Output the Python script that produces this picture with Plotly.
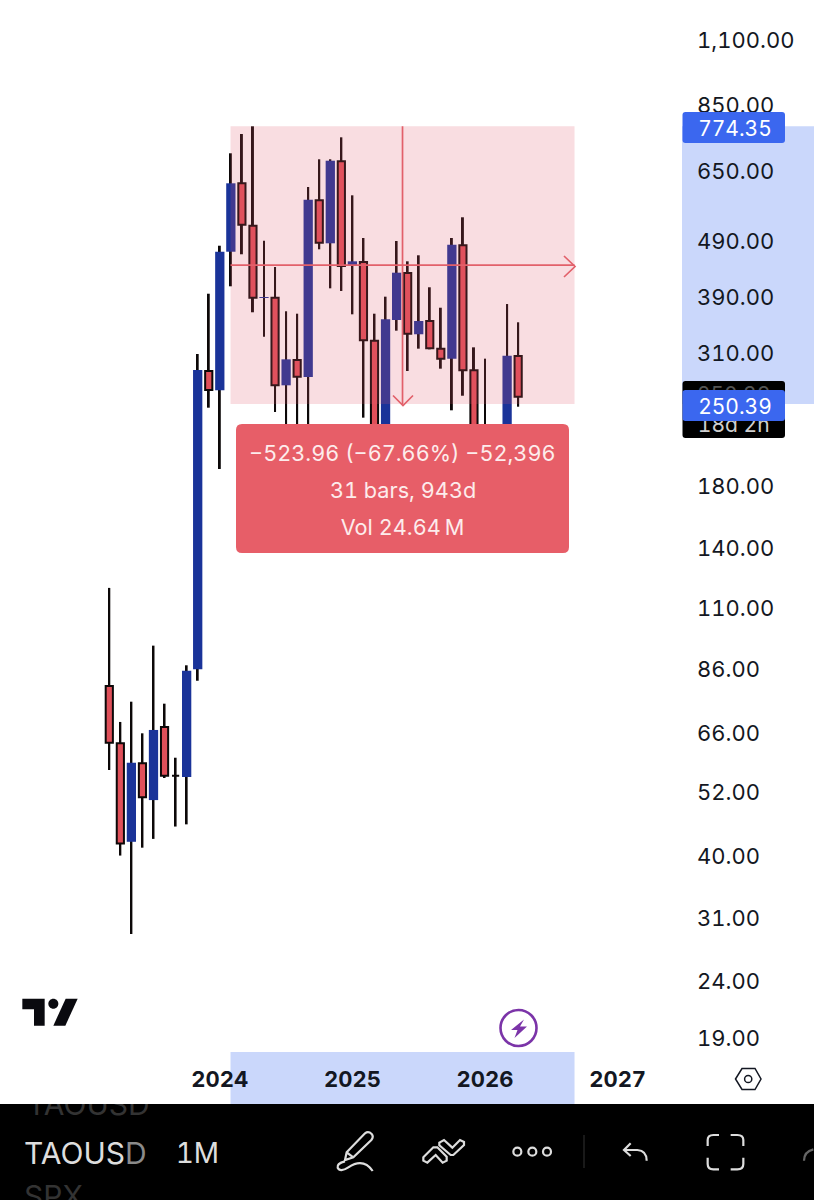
import re
import plotly.graph_objects as go

# ---- data (TAOUSD, monthly) ----
bar_index = list(range(38))
high = [118.5, 68.7, 74.6, 65.6, 93.7, 74.0, 59.4, 86.5, 306.8, 392.0, 476.5, 693.9, 750.5, 774.35, 486.3, 437.0, 365.0, 361.4, 605.0, 677.2, 677.2, 740.5, 584.9, 491.7, 361.4, 387.3, 485.7, 447.2, 458.3, 402.4, 370.3, 491.7, 534.9, 315.2, 301.0, 225.2, 375.9, 349.0]
low = [56.5, 39.9, 29.0, 41.2, 42.7, 54.7, 44.9, 45.3, 81.2, 246.6, 192.2, 404.0, 460.2, 363.5, 329.1, 242.3, 216.2, 219.8, 211.9, 469.6, 400.7, 396.4, 360.5, 236.8, 162.7, 156.2, 337.3, 286.3, 313.5, 312.7, 289.0, 244.0, 258.9, 176.4, 169.4, 166.0, 169.4, 247.6]
opens = [79.5, 63.0, 42.2, 58.1, 50.0, 67.3, 55.2, 54.9, 85.1, 286.3, 264.7, 465.0, 614.2, 516.9, 386.0, 385.7, 270.1, 299.4, 279.4, 573.2, 481.2, 671.7, 439.3, 446.0, 323.8, 183.8, 352.3, 426.5, 332.4, 350.8, 313.5, 301.0, 477.3, 287.1, 216.2, 191.4, 199.3, 304.3]
closes = [63.1, 41.9, 58.2, 50.6, 66.5, 55.2, 55.2, 84.6, 287.4, 265.0, 465.0, 614.2, 519.0, 385.7, 386.8, 270.1, 300.2, 279.7, 574.6, 482.4, 673.3, 438.8, 447.2, 324.4, 183.8, 353.3, 427.0, 333.2, 350.8, 314.0, 301.0, 478.5, 287.1, 216.2, 191.4, 207.6, 304.7, 257.9]

# the printed price labels are rounded, so each sits at its own level
price_ticks = [1100, 843.1, 644.7, 486, 386.8, 307.5, 238, 178.9, 139.4, 109.1, 85.0, 65.7, 51.7, 39.8, 30.9, 23.9, 19]
price_tick_labels = ["1,100.00", "850.00", "650.00", "490.00", "390.00", "310.00", "240.00", "180.00", "140.00",
                     "110.00", "86.00", "66.00", "52.00", "40.00", "31.00", "24.00", "19.00"]
year_ticks = [10, 22, 34, 46]
year_labels = ["2024", "2025", "2026", "2027"]

measure_start_bar, measure_end_bar = 10.97, 42.1
measure_high, measure_low = 774.35, 250.39
measure_lines = ["\u2212523.96 (\u221267.66%) \u221252,396", "31 bars, 943d", "Vol 24.64\u2009M"]
symbol, interval = "TAOUSD", "1M"

# ---- styles ----
W, H = 814, 1200
BLUE, RED, WICK = "#1a3399", "#e0505a", "#0c0808"
PINK = "rgba(225,85,105,0.2)"
BAND, TAG, MEASURE = "#cad7fb", "#3b67ef", "#e75e68"
FONT = "Inter"
ICON = "#dddddd"

def px(x): return x / W
def py(y): return 1 - y / H

def rr(x0, y0, x1, y1, r):
    return (f"M {px(x0+r)} {py(y0)} L {px(x1-r)} {py(y0)} Q {px(x1)} {py(y0)} {px(x1)} {py(y0+r)} "
            f"L {px(x1)} {py(y1-r)} Q {px(x1)} {py(y1)} {px(x1-r)} {py(y1)} "
            f"L {px(x0+r)} {py(y1)} Q {px(x0)} {py(y1)} {px(x0)} {py(y1-r)} "
            f"L {px(x0)} {py(y0+r)} Q {px(x0)} {py(y0)} {px(x0+r)} {py(y0)} Z")

def icon(path, ox=0.0, oy=0.0, sx=1.0, sy=1.0):
    """Turn an SVG-like path in crop pixels into paper coordinates."""
    parts = re.findall(r"[A-Za-z]|-?\d+\.?\d*", path)
    out, is_x = [], True
    for p in parts:
        if p.isalpha():
            out.append(p); is_x = True
        else:
            v = float(p)
            out.append(str(px(ox + v / sx)) if is_x else str(py(oy + v / sy)))
            is_x = not is_x
    return " ".join(out)

def circle(cx, cy, r):
    k = 0.5523 * r
    return (f"M {cx-r} {cy} C {cx-r} {cy-k} {cx-k} {cy-r} {cx} {cy-r} C {cx+k} {cy-r} {cx+r} {cy-k} {cx+r} {cy} "
            f"C {cx+r} {cy+k} {cx+k} {cy+r} {cx} {cy+r} C {cx-k} {cy+r} {cx-r} {cy+k} {cx-r} {cy} Z")

fig = go.Figure()
# wicks
fig.add_trace(go.Bar(x=bar_index, base=low, y=[h - l for h, l in zip(high, low)], width=0.18,
                     marker=dict(color=WICK, line=dict(width=0)), hoverinfo="skip", showlegend=False))
# rising bodies, no outline
up = [i for i in bar_index if closes[i] > opens[i]]
fig.add_trace(go.Bar(x=up, base=[opens[i] for i in up], y=[closes[i] - opens[i] for i in up], width=0.84,
                     marker=dict(color=BLUE, line=dict(width=0)), hoverinfo="skip", showlegend=False))
# falling bodies, dark outline
down = [i for i in bar_index if closes[i] <= opens[i]]
fig.add_trace(go.Bar(x=down, base=[closes[i] for i in down], y=[opens[i] - closes[i] for i in down], width=0.65,
                     marker=dict(color=RED, line=dict(color=WICK, width=2)), hoverinfo="skip", showlegend=False))

mid = (measure_high * measure_low) ** 0.5
mid_bar = (measure_start_bar + measure_end_bar) / 2
shapes = []
# below-trace bands
shapes.append(dict(type="rect", xref="paper", yref="y", x0=px(682), x1=1, y0=measure_low, y1=measure_high,
                   fillcolor=BAND, line_width=0, layer="below"))
shapes.append(dict(type="rect", xref="x", yref="paper", x0=measure_start_bar, x1=measure_end_bar, y0=py(1104), y1=py(1052),
                   fillcolor=BAND, line_width=0, layer="below"))
# measure area over the candles
shapes.append(dict(type="rect", xref="x", yref="y", x0=measure_start_bar, x1=measure_end_bar, y0=measure_low, y1=measure_high,
                   fillcolor=PINK, line_width=0, layer="above"))
arrow = dict(color="#e2606a", width=1.7)
shapes.append(dict(type="line", xref="x", yref="y", x0=measure_start_bar, x1=measure_end_bar, y0=mid, y1=mid, line=arrow, layer="above"))
shapes.append(dict(type="line", xref="x", yref="y", x0=mid_bar, x1=mid_bar, y0=measure_high, y1=measure_low, line=arrow, layer="above"))
shapes.append(dict(type="path", xref="paper", yref="paper", path=icon("M 564 256 L 575 266.5 L 564 277"), line=arrow, layer="above"))
shapes.append(dict(type="path", xref="paper", yref="paper", path=icon("M 393 395.5 L 403 405.5 L 413 395.5"), line=arrow, layer="above"))
# measure label
shapes.append(dict(type="path", xref="paper", yref="paper", path=rr(236, 424, 569, 553, 6), fillcolor=MEASURE, line_width=0, layer="above"))

# price tags
shapes.append(dict(type="path", xref="paper", yref="paper", path=rr(682.5, 381, 785, 438, 3),
                   fillcolor="#000000", line_width=0, layer="above"))
shapes.append(dict(type="rect", xref="paper", yref="paper", x0=px(682.5), x1=px(785), y0=py(438), y1=py(381),
                   fillcolor="rgba(0,0,0,0)", line_width=0, layer="above",
                   label=dict(text="18d 2h", font=dict(family=FONT, size=21, color="#cfcfcf"), textposition="bottom center", padding=2)))
shapes.append(dict(type="rect", xref="paper", yref="paper", x0=px(682.5), x1=px(785), y0=py(410), y1=py(380),
                   fillcolor="rgba(0,0,0,0)", line_width=0, layer="above",
                   label=dict(text="250.39", font=dict(family=FONT, size=21, color="#555555"), textposition="top center", padding=1)))
for top, text in [(112, f"{measure_high:.2f}"), (390, f"{measure_low:.2f}")]:
    shapes.append(dict(type="path", xref="paper", yref="paper", path=rr(682.5, top, 785, top + 31, 3),
                       fillcolor=TAG, line_width=0, layer="above"))
    shapes.append(dict(type="rect", xref="paper", yref="paper", x0=px(684), x1=px(786), y0=py(top + 31), y1=py(top),
                       fillcolor="rgba(0,0,0,0)", line_width=0, layer="above",
                       label=dict(text=text, font=dict(family=FONT, size=21, color="#ffffff"), textposition="middle center")))

# TradingView mark
tv = dict(type="path", xref="paper", yref="paper", fillcolor="#0a0a0f", line_width=0, layer="above")
shapes.append({**tv, "path": icon("M 37 26 L 104 26 L 104 107 L 72 107 L 72 58 L 37 58 Z", 10, 990, 3, 3)})
shapes.append({**tv, "path": icon(circle(130, 41, 15), 10, 990, 3, 3)})
shapes.append({**tv, "path": icon("M 167 26 L 203 26 L 166 107 L 130 107 Z", 10, 990, 3, 3)})

# lightning mark
shapes.append(dict(type="path", xref="paper", yref="paper", path=icon(circle(518.5, 1028, 18)), fillcolor="rgba(0,0,0,0)",
                   line=dict(color="#7b34a8", width=2.6), layer="above"))
shapes.append(dict(type="path", xref="paper", yref="paper", fillcolor="#7b34a8", line_width=0, layer="above",
                   path=icon("M 524 1019.5 L 511 1030 L 517.5 1030 L 514.5 1038 L 527 1026.5 L 520 1026.5 Z")))
# settings hexagon
shapes.append(dict(type="path", xref="paper", yref="paper", fillcolor="rgba(0,0,0,0)", line=dict(color="#131722", width=1.5), layer="above",
                   path=icon("M 735.5 1079 L 742 1068.5 L 755 1068.5 L 761 1079 L 755 1089.5 L 742 1089.5 Z")))
shapes.append(dict(type="path", xref="paper", yref="paper", fillcolor="rgba(0,0,0,0)", line=dict(color="#131722", width=1.5), layer="above",
                   path=icon(circle(748.2, 1079, 3.6))))

# toolbar
shapes.append(dict(type="rect", xref="paper", yref="paper", x0=0, x1=1, y0=0, y1=py(1104), fillcolor="#000000",
                   line=dict(width=0), layer="above"))
shapes.append(dict(type="rect", xref="paper", yref="paper", x0=px(20), x1=px(150), y0=py(1125), y1=py(1101),
                   fillcolor="rgba(0,0,0,0)", line_width=0, layer="above",
                   label=dict(text=symbol, font=dict(family=FONT, size=30, color="#333333"), textposition="bottom left", padding=4)))
shapes.append(dict(type="rect", xref="paper", yref="paper", x0=px(18), x1=px(150), y0=py(1104), y1=py(1084), fillcolor="#ffffff",
                   line_width=0, layer="above"))
stroke = dict(type="path", xref="paper", yref="paper", fillcolor="rgba(0,0,0,0)", layer="above", line=dict(color=ICON, width=2.2))
# pen
shapes.append({**stroke, "path": icon("M 75 120 L 80 97 L 135 40 Q 145 32 155 42 Q 162 50 154 60 L 100 112 Z M 80 97 L 100 112", 320, 1120, 3, 3)})
shapes.append({**stroke, "path": icon("M 75 124 Q 50 130 53 143 Q 60 158 85 142 Q 130 112 158 153", 320, 1120, 3, 3)})
# drawings
shapes.append({**stroke, "path": icon("M 310 112 L 340 82 L 352 82 L 380 110 L 380 122 L 368 128 L 347 105 L 322 128 L 310 122 Z", 320, 1120, 3, 3)})
shapes.append({**stroke, "path": icon("M 358 68 L 372 60 L 397 83 L 420 60 L 432 66 L 432 75 L 400 105 L 392 105 L 358 76 Z", 320, 1120, 3, 3)})
# dots
for cx in (592, 637, 681):
    shapes.append({**stroke, "path": icon(circle(cx, 95, 12), 320, 1120, 3, 3)})
shapes.append(dict(type="line", xref="paper", yref="paper", x0=px(584), x1=px(584), y0=py(1135), y1=py(1168),
                   line=dict(color="#333333", width=1), layer="above"))
# undo
shapes.append({**stroke, "path": icon("M 92 70 L 72 90 L 92 108 M 72 90 L 112 90 Q 140 92 140 122", 600, 1120, 3, 3)})
# brackets
for d in ("M 323 78 L 323 60 Q 323 45 340 45 L 357 45", "M 392 45 L 412 45 Q 430 45 430 60 L 430 78",
          "M 323 113 L 323 132 Q 323 148 340 148 L 357 148", "M 392 148 L 412 148 Q 430 148 430 132 L 430 113"):
    shapes.append({**stroke, "path": icon(d, 600, 1120, 3, 3)})
shapes.append({**stroke, "line": dict(color="#666666", width=2.2), "path": icon("M 612 122 Q 612 95 640 88", 600, 1120, 3, 3)})

annotations = []
for text, y in zip(measure_lines, (452.7, 489.5, 526.5)):
    annotations.append(dict(text=text, xref="paper", yref="paper", x=px(402.5), y=py(y), xanchor="center", yanchor="middle",
                            showarrow=False, font=dict(family=FONT, size=21.7, color="#fdecec")))
sym = dict(xref="paper", yref="paper", xanchor="left", yanchor="middle", showarrow=False)
annotations.append(dict(sym, text=symbol[:-1] + f'<span style="color:#8a8a8a">{symbol[-1]}</span>', x=px(21.5), y=py(1153),
                        font=dict(family=FONT, size=30, color="#dddddd")))
annotations.append(dict(sym, text=interval, x=px(176.5), y=py(1153), font=dict(family=FONT, size=28, color="#dddddd")))
annotations.append(dict(sym, text="SPX", x=px(21.5), y=py(1196), font=dict(family=FONT, size=30, color="#333333")))

fig.update_layout(
    width=W, height=H, margin=dict(l=0, r=0, t=0, b=0), autosize=False, barmode="overlay",
    paper_bgcolor="#ffffff", plot_bgcolor="rgba(0,0,0,0)", showlegend=False,
    shapes=shapes, annotations=annotations, dragmode=False,
    xaxis=dict(domain=[0, 690 / W], range=[-9.89, 52.55], tickmode="array",
               tickvals=year_ticks, ticktext=year_labels, showgrid=False, zeroline=False, showline=False,
               ticks="", ticklabelstandoff=12, tickangle=0, automargin=False,
               tickfont=dict(family=FONT, size=22, color="#131722", weight="bold")),
    yaxis=dict(domain=[py(1052), 1], type="log", range=[1.25404, 3.11204], side="right", tickmode="array",
               tickvals=price_ticks, ticktext=price_tick_labels, showgrid=False, zeroline=False, showline=False,
               ticks="", ticklabelstandoff=6, automargin=False,
               tickfont=dict(family=FONT, size=22, color="#131722")),
)
fig.write_html("out.html", config=dict(displayModeBar=False),
               post_script="document.body.style.margin='0';document.body.style.overflow='hidden';"
                           "document.body.style.fontFeatureSettings='\"tnum\"';")
